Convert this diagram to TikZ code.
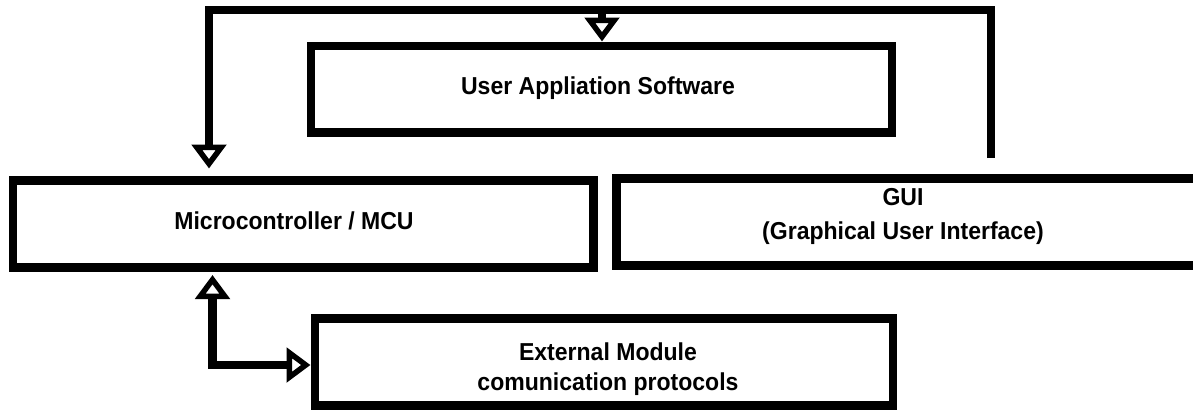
\documentclass[tikz,border=0pt]{standalone}
\usepackage{fontspec}
\setmainfont{Liberation Sans}
\newfontfamily\diagfont[FakeStretch=0.94]{Liberation Sans}
\usetikzlibrary{arrows.meta}
\begin{document}
\begin{tikzpicture}[x=1pt,y=-1pt,
  box/.style={draw=black,line width=8.6pt,rectangle,inner sep=0pt,minimum height=86.5pt},
  lbl/.style={font=\diagfont\fontsize{24.5}{30}\selectfont\bfseries,align=center,inner sep=0pt},
  conn/.style={line width=8.4pt,line join=miter,line cap=butt}]
\tikzset{opentip/.tip={Triangle[open,length=24pt,width=34pt,line width=5.5pt,fill=white]}}
\useasboundingbox (0,0) rectangle (1193,410);
\clip (0,0) rectangle (1193,410);
% boxes
\node[box,minimum width=581pt] (user) at (601.5,89.3) {};
\node[box,minimum width=580.7pt] (mcu) at (303.2,224) {};
\node[box,minimum width=581pt] (gui) at (907.2,222) {};
\node[box,minimum width=578pt] (ext) at (604,362) {};
% labels
\node[lbl] (userT) at (598,88) {User Appliation Software};
\node[lbl] (mcuT) at (294,221) {Microcontroller / MCU};
\node[lbl,font=\diagfont\fontsize{24.5}{34}\selectfont\bfseries] (guiT) at (903,216) {GUI\\(Graphical User Interface)};
\node[lbl] (extT) at (608,369) {External Module\\ comunication protocols};
% connector points
\coordinate (bus) at (600,10);
\coordinate (gstart) at (991,158);
\coordinate (mcuin) at (209,168.5);
\coordinate (userin) at (602,41.5);
\coordinate (busU) at (602,10);
\coordinate (mcuout) at (212.5,275);
\coordinate (extin) at (310.5,365);
% connectors
\draw[conn,-opentip] (gstart) -- (gstart |- bus) -| (mcuin);
\draw[conn,-opentip] (busU) -- (userin);
\draw[conn,opentip-opentip] (mcuout) |- (extin);
\end{tikzpicture}
\end{document}
